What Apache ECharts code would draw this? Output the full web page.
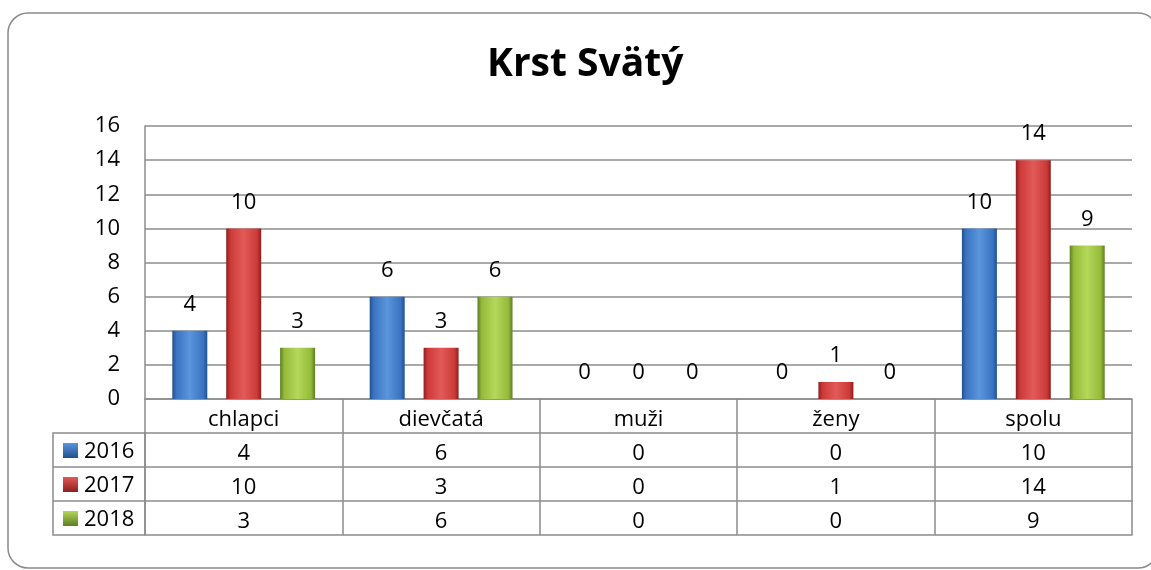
<!DOCTYPE html>
<html>
<head>
<meta charset="utf-8">
<script src="https://cdn.jsdelivr.net/npm/echarts@6/dist/echarts.min.js"></script>
<style>
  html, body { margin: 0; padding: 0; background: #fff; }
  #chart { width: 1151px; height: 570px; }
</style>
</head>
<body>
<div id="chart"></div>
<script>
// data
var categories = ['chlapci', 'dievčatá', 'muži', 'ženy', 'spolu'];
var years = ['2016', '2017', '2018'];
var values2016 = [4, 6, 0, 0, 10];
var values2017 = [10, 3, 0, 1, 14];
var values2018 = [3, 6, 0, 0, 9];
var yTicks = { min: 0, max: 16, interval: 2 };

var FONT = '"Open Sans", Lato, sans-serif';
var TXT = 22;
var lineColor = '#8c8c8c';
var rowValues = [values2016, values2017, values2018];

// colours: [light, mid, dark]
var palette = [
    ['#5b95dc', '#3a74c2', '#22508f'],
    ['#e25a58', '#cc3a38', '#8e1f1e'],
    ['#b4d85a', '#95bb3a', '#5f7d22']
];

function barFill(c) {
    return new echarts.graphic.LinearGradient(0, 0, 1, 0, [
        { offset: 0, color: c[2] },
        { offset: 0.12, color: c[1] },
        { offset: 0.5, color: c[0] },
        { offset: 0.88, color: c[1] },
        { offset: 1, color: c[2] }
    ]);
}

var chartDom = document.getElementById('chart');
var chart = echarts.init(chartDom, null, { renderer: 'canvas' });

var series = rowValues.map(function (vals, i) {
    return {
        name: years[i],
        type: 'bar',
        data: vals,
        barWidth: 35,
        barGap: '54%',
        xAxisIndex: 0,
        itemStyle: {
            color: barFill(palette[i]),
            borderWidth: 0
        },
        label: {
            show: true,
            position: 'top',
            distance: 15,
            fontFamily: FONT,
            fontSize: TXT,
            color: '#000'
        }
    };
});

var cellLabel = {
    margin: 0,
    lineHeight: 34,
    padding: [4, 0, 0, 0],
    fontFamily: FONT,
    fontSize: TXT,
    color: '#000'
};

// table rows are extra x axes stacked under the main one
var rowAxes = [0, 1, 2, 3].map(function (r) {
    return {
        type: 'category',
        data: categories,
        position: 'bottom',
        offset: 34 * (r + 1),
        axisLine: { show: true, lineStyle: { color: lineColor, width: 1.5 } },
        axisTick: { show: r < 3, length: 34, lineStyle: { color: lineColor, width: 1.5 } },
        axisLabel: Object.assign({}, cellLabel, {
            show: r < 3,
            formatter: function (v, idx) {
                return r < 3 ? String(rowValues[r][idx]) : '';
            }
        }),
        splitLine: { show: false }
    };
});

var extraGraphics = [];
var tableLeft = 53, tableRight = 145, rowTop = 433, rowH = 34;
extraGraphics.push({
    type: 'rect',
    shape: { x: tableLeft, y: rowTop, width: tableRight - tableLeft, height: rowH * 3 },
    style: { fill: 'none', stroke: lineColor, lineWidth: 1.5 }
});
years.forEach(function (y, i) {
    var cy = rowTop + rowH * i + rowH / 2;
    if (i > 0) {
        extraGraphics.push({
            type: 'line',
            shape: { x1: tableLeft, y1: rowTop + rowH * i, x2: tableRight, y2: rowTop + rowH * i },
            style: { stroke: lineColor, lineWidth: 1.5 }
        });
    }
    extraGraphics.push({
        type: 'rect',
        shape: { x: 63, y: cy - 7, width: 15, height: 15 },
        style: {
            fill: new echarts.graphic.LinearGradient(0, 0, 0, 1, [
                { offset: 0, color: palette[i][0] },
                { offset: 1, color: palette[i][2] }
            ])
        }
    });
    extraGraphics.push({
        type: 'text',
        x: 84, y: cy + 2,
        style: { text: y, fontFamily: FONT, fontSize: TXT, fill: '#000', verticalAlign: 'middle' }
    });
});

// outer rounded frame
extraGraphics.push({
    type: 'rect',
    z: -1,
    shape: { x: 8, y: 13, width: 1150, height: 555, r: 20 },
    style: { fill: 'none', stroke: '#8a8a8a', lineWidth: 1.5 }
});

var option = {
    backgroundColor: '#fff',
    animation: false,
    title: {
        text: 'Krst Svätý',
        left: 482,
        top: 40,
        textStyle: { fontFamily: FONT, fontSize: 39, fontWeight: 'bold', color: '#000' }
    },
    grid: { left: 145, right: 19, top: 126, bottom: 171, containLabel: false },
    xAxis: [{
        type: 'category',
        data: categories,
        position: 'bottom',
        axisLine: { show: true, lineStyle: { color: lineColor, width: 1.5 } },
        axisTick: { show: true, length: 34, lineStyle: { color: lineColor, width: 1.5 } },
        axisLabel: cellLabel,
        splitLine: { show: false }
    }].concat(rowAxes),
    yAxis: {
        type: 'value',
        min: yTicks.min,
        max: yTicks.max,
        interval: yTicks.interval,
        axisLine: { show: true, lineStyle: { color: lineColor, width: 1.5 } },
        axisTick: { show: false },
        axisLabel: { margin: 25, fontFamily: FONT, fontSize: TXT, color: '#000' },
        splitLine: { show: true, lineStyle: { color: lineColor, width: 1.5 } }
    },
    series: series,
    graphic: extraGraphics
};

chart.setOption(option);
</script>
</body>
</html>
